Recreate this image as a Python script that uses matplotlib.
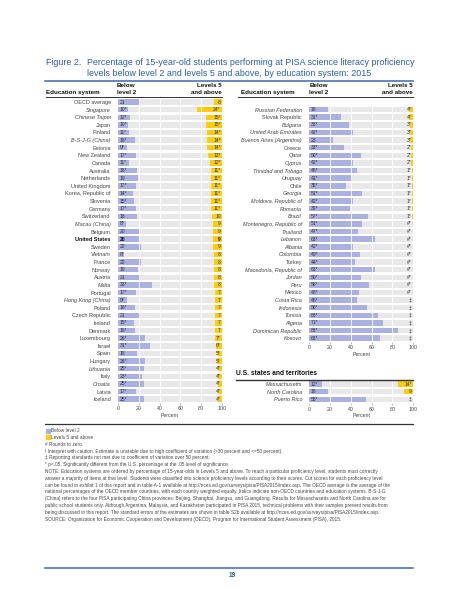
import matplotlib
matplotlib.use('Agg')
import matplotlib.pyplot as plt
import numpy as np
from matplotlib.lines import Line2D
from matplotlib.patches import Rectangle

plt.rcParams['font.family'] = ['Liberation Sans', 'DejaVu Sans']

# data
left_names = ['OECD average', 'Singapore', 'Chinese Taipei', 'Japan', 'Finland', 'B-S-J-G (China)',
              'Estonia', 'New Zealand', 'Canada', 'Australia', 'Netherlands', 'United Kingdom',
              'Korea, Republic of', 'Slovenia', 'Germany', 'Switzerland', 'Macau (China)', 'Belgium',
              'United States', 'Sweden', 'Vietnam', 'France', 'Norway', 'Austria', 'Malta', 'Portugal',
              'Hong Kong (China)', 'Poland', 'Czech Republic', 'Ireland', 'Denmark', 'Luxembourg',
              'Israel', 'Spain', 'Hungary', 'Lithuania', 'Italy', 'Croatia', 'Latvia', 'Iceland']
left_below2 = ['21', '10*', '12*', '10*', '11*', '16*', '9*', '17*', '11*', '18*', '19', '17*',
               '14*', '15*', '17*', '18', '8*', '20', '20', '22', '6*', '22', '19', '21', '33*', '17*',
               '9*', '16*', '21', '15*', '16*', '26*', '31*', '18', '26*', '25*', '23*', '25*', '17*', '25*']
left_level5 = ['8', '24*', '15*', '15*', '14*', '14*', '14*', '13*', '12*', '11*', '11*', '11*',
               '11*', '11*', '11*', '10', '9', '9', '9', '9', '8', '8', '8', '8', '8', '7',
               '7', '7', '7', '7', '7', '7*', '6*', '5*', '5*', '4*', '4*', '4*', '4*', '4*']
left_italic = ['Singapore', 'Chinese Taipei', 'B-S-J-G (China)', 'Macau (China)', 'Vietnam', 'Malta',
               'Hong Kong (China)', 'Lithuania', 'Croatia']

right_names = ['Russian Federation', 'Slovak Republic', 'Bulgaria', 'United Arab Emirates',
               'Buenos Aires (Argentina)', 'Greece', 'Qatar', 'Cyprus', 'Trinidad and Tobago', 'Uruguay',
               'Chile', 'Georgia', 'Moldova, Republic of', 'Romania', 'Brazil', 'Montenegro, Republic of',
               'Thailand', 'Lebanon', 'Albania', 'Colombia', 'Turkey', 'Macedonia, Republic of', 'Jordan',
               'Peru', 'Mexico', 'Costa Rica', 'Indonesia', 'Tunisia', 'Algeria', 'Dominican Republic', 'Kosovo']
right_below2 = ['18', '31*', '38*', '42*', '23', '33*', '50*', '42*', '46*', '41*', '35*', '51*', '42*',
                '39*', '57*', '51*', '47*', '63*', '42*', '49*', '44*', '63*', '50*', '58*', '48*', '46*',
                '56*', '66*', '71*', '86*', '68*']
right_level5 = ['4*', '4*', '3*', '3*', '3*', '2*', '2*', '2*', '1*', '1*', '1*', '1*', '1*', '1*', '1*',
                '#*', '#*', '#*', '#*', '#*', '#*', '#*', '#*', '#*', '#*', '\u2021', '\u2021', '\u2021',
                '\u2021', '\u2021', '\u2021']
right_roman = ['Slovak Republic', 'Greece', 'Chile', 'Turkey', 'Mexico']

us_names = ['Massachusetts', 'North Carolina', 'Puerto Rico']
us_below2 = ['12*', '18', '55*']
us_level5 = ['14*', '9', '\u2021']

blue_t = '#2c5ea8'
c_low = '#aab0e0'
c_high = '#fdcc0d'
c_bg = '#e8e8e8'
W, H = 464, 600


def fx(x):
    return x / W


def fy(y):
    return 1 - y / H


def num(s):
    s = s.strip('*')
    return float(s) if s.isdigit() else 0.0


def panel(x0, x1, top, n):
    rh = 7.62
    ax = plt.gcf().add_axes([fx(x0), fy(top + n * rh), (x1 - x0) / W, n * rh / H])
    return ax


def draw(ax, names, b2, l5, italic=None, roman=None):
    n = len(names)
    y = np.arange(n)
    ax.barh(y, [100] * n, height=0.72, color=c_bg, zorder=1)
    ax.barh(y, [num(v) for v in b2], height=0.72, color=c_low, zorder=2)
    v5 = [num(v) for v in l5]
    ax.barh(y, v5, left=[100 - v for v in v5], height=0.72, color=c_high, zorder=2)
    ax.vlines([20, 40, 60, 80], -0.5, n - 0.5, colors='white', lw=0.6, zorder=3)
    for i in range(n):
        wt = 'bold' if names[i] == 'United States' else 'normal'
        col = '#111111' if wt == 'bold' else '#333333'
        ax.text(1.5, i, b2[i], fontsize=3.6, va='center', ha='left', color=col, weight=wt, zorder=4)
        ax.text(98.8, i, l5[i], fontsize=3.6, va='center', ha='right', color=col, weight=wt, zorder=4)
    ax.set_xlim(0, 100)
    ax.set_ylim(n - 0.5, -0.5)
    ax.set_yticks(y)
    ax.set_yticklabels(names, fontsize=4.0, color='#444444')
    for lab in ax.get_yticklabels():
        t = lab.get_text()
        if t == 'United States':
            lab.set_fontweight('bold')
            lab.set_color('#111111')
        if italic is not None and t in italic:
            lab.set_fontstyle('italic')
        if roman is not None and t not in roman:
            lab.set_fontstyle('italic')
    ax.tick_params(axis='y', length=0, pad=5.2)
    ax.set_xticks([0, 20, 40, 60, 80, 100])
    ax.tick_params(axis='x', labelsize=3.8, labelcolor='#444444', length=1.5, width=0.4,
                   color='#888888', pad=1)
    ax.set_xlabel('Percent', fontsize=3.8, color='#444444', labelpad=0.8)
    for s in ax.spines.values():
        s.set_visible(False)


fig = plt.figure(figsize=(4.64, 6.0), dpi=100)

ax1 = panel(118, 222, 98.2, len(left_names))
draw(ax1, left_names, left_below2, left_level5, italic=left_italic)
ax2 = panel(309.3, 413, 105.8, len(right_names))
draw(ax2, right_names, right_below2, right_level5, roman=right_roman)
ax3 = panel(309.3, 413, 380.2, len(us_names))
draw(ax3, us_names, us_below2, us_level5, roman=[])

# title
fig.text(fx(46), fy(62.3), 'Figure 2.', fontsize=6.4, color=blue_t, va='center')
fig.text(fx(86.7), fy(62.3), 'Percentage of 15-year-old students performing at PISA science literacy proficiency',
         fontsize=6.4, color=blue_t, va='center')
fig.text(fx(86.7), fy(73.3), 'levels below level 2 and levels 5 and above, by education system: 2015',
         fontsize=6.4, color=blue_t, va='center')


def hline(x0, x1, y, color, lw):
    fig.add_artist(Line2D([fx(x0), fx(x1)], [fy(y), fy(y)], color=color, lw=lw))


hline(45, 413, 80.7, '#3a68b0', 1.1)

# column headers
for ex, bx, rx in [(46, 117, 221.5), (241, 309.3, 412.5)]:
    fig.text(fx(ex), fy(92.7), 'Education system', fontsize=4.5, weight='bold', va='center', color='#111111')
    fig.text(fx(bx), fy(85.2), 'Below', fontsize=4.5, weight='bold', va='center', color='#111111')
    fig.text(fx(bx), fy(92.7), 'level 2', fontsize=4.5, weight='bold', va='center', color='#111111')
    fig.text(fx(rx), fy(85.2), 'Levels 5', fontsize=4.5, weight='bold', va='center', ha='right', color='#111111')
    fig.text(fx(rx), fy(92.7), 'and above', fontsize=4.5, weight='bold', va='center', ha='right', color='#111111')
hline(46, 222, 97.3, '#111111', 0.6)
hline(238, 413, 97.3, '#111111', 0.6)

# US states block
fig.text(fx(236), fy(373.3), 'U.S. states and territories', fontsize=4.8, weight='bold', va='center', color='#111111')
hline(236, 413, 379.7, '#333333', 1.0)

hline(45, 413, 424.3, '#333333', 0.9)

# legend and notes
fig.add_artist(Rectangle((fx(46), fy(432.6)), 3.8 / W, 3.8 / H, color=c_low, transform=fig.transFigure))
fig.text(fx(51), fy(430.7), 'Below level 2', fontsize=3.4, va='center', color='#444444')
fig.add_artist(Rectangle((fx(46), fy(438.9)), 3.8 / W, 3.8 / H, color=c_high, transform=fig.transFigure))
fig.text(fx(51), fy(437.1), 'Levels 5 and above', fontsize=3.4, va='center', color='#444444')

notes = [
    '# Rounds to zero.',
    '! Interpret with caution. Estimate is unstable due to high coefficient of variation (>30 percent and <=50 percent).',
    '\u2021 Reporting standards not met due to coefficient of variation over 50 percent.',
    '* p<.05. Significantly different from the U.S. percentage at the .05 level of significance.',
    'NOTE: Education systems are ordered by percentage of 15-year-olds in Levels 5 and above. To reach a particular proficiency level, students must correctly',
    'answer a majority of items at that level. Students were classified into science proficiency levels according to their scores. Cut scores for each proficiency level',
    'can be found in exhibit 1 of this report and in table A-1 available at http://nces.ed.gov/surveys/pisa/PISA2015/index.asp. The OECD average is the average of the',
    'national percentages of the OECD member countries, with each country weighted equally. Italics indicate non-OECD countries and education systems. B-S-J-G',
    '(China) refers to the four PISA participating China provinces: Beijing, Shanghai, Jiangsu, and Guangdong. Results for Massachusetts and North Carolina are for',
    'public school students only. Although Argentina, Malaysia, and Kazakhstan participated in PISA 2015, technical problems with their samples prevent results from',
    'being discussed in this report. The standard errors of the estimates are shown in table S2b available at http://nces.ed.gov/surveys/pisa/PISA2015/index.asp.',
    'SOURCE: Organization for Economic Cooperation and Development (OECD), Program for International Student Assessment (PISA), 2015.',
]
for k, line in enumerate(notes):
    fig.text(fx(45), fy(444.2 + k * 6.8), line, fontsize=3.4, va='center', color='#444444')

# page footer
hline(45, 413, 568, '#3a68b0', 1.1)
fig.text(fx(232), fy(575.5), '19', fontsize=4.8, weight='bold', color=blue_t, ha='center', va='center')

fig.savefig('out.png', dpi=100)
